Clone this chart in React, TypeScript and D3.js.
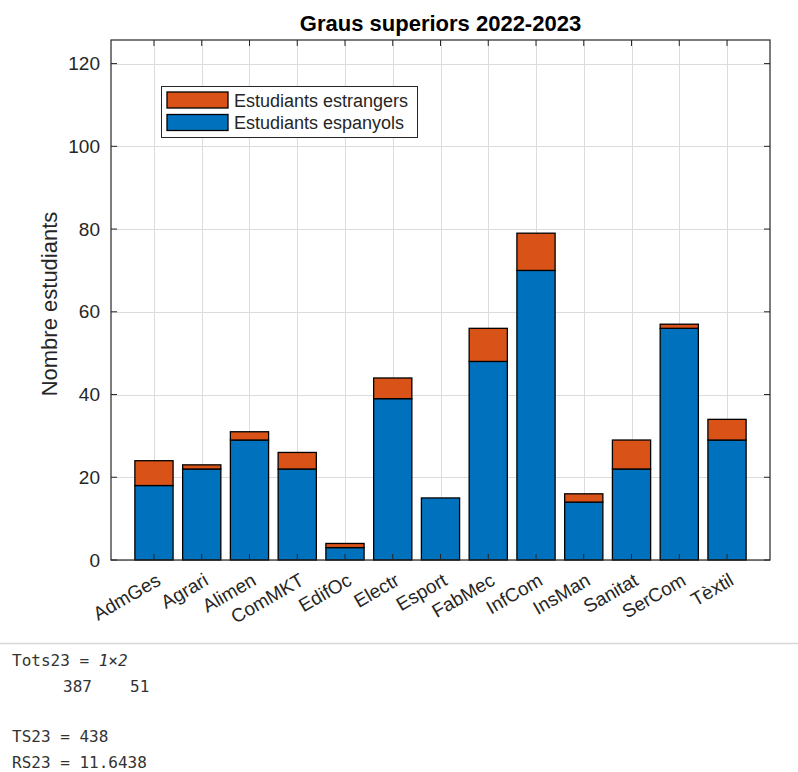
import React from "react";
import * as d3 from "d3";

const categories = ["AdmGes", "Agrari", "Alimen", "ComMKT", "EdifOc", "Electr", "Esport", "FabMec", "InfCom", "InsMan", "Sanitat", "SerCom", "Tèxtil"];
const spanish = [18, 22, 29, 22, 3, 39, 15, 48, 70, 14, 22, 56, 29];
const foreign = [6, 1, 2, 4, 1, 5, 0, 8, 9, 2, 7, 1, 5];
const yTicks = [0, 20, 40, 60, 80, 100, 120];
const seriesKeys = ["spanish", "foreign"];
const seriesColors = ["#0072BD", "#D95319"];
const legendItems = [
  { name: "Estudiants estrangers", color: "#D95319" },
  { name: "Estudiants espanyols", color: "#0072BD" },
];
const titleText = "Graus superiors 2022-2023";
const yLabelText = "Nombre estudiants";

const W = 798, H = 772;
const plot = { left: 111, right: 770, top: 40, bottom: 560 };
const AX = "#262626";
const FONT = "'Liberation Sans', Arial, sans-serif";
const MONO = "'DejaVu Sans Mono', 'Liberation Mono', monospace";

export default function App() {
  const x = d3.scaleLinear().domain([0.1, 13.9]).range([plot.left, plot.right]);
  const y = d3.scaleLinear().domain([0, 125.7]).range([plot.bottom, plot.top]);
  const rows = categories.map((c, i) => ({ cat: c, idx: i + 1, spanish: spanish[i], foreign: foreign[i] }));
  const stacked = d3.stack<any>().keys(seriesKeys)(rows);
  const step = x(2) - x(1);
  const bw = step * 0.8;
  const tickLen = 6;

  return (
    <div style={{ position: "absolute", left: 0, top: 0, width: W, height: H, background: "#fff" }}>
      <svg width={W} height={H} style={{ display: "block" }}>
        <rect x={0} y={0} width={W} height={H} fill="#ffffff" />
        {/* grid */}
        <g stroke="#dcdcdc" strokeWidth={1}>
          {yTicks.map((t) => (
            <line key={"gy" + t} x1={plot.left} x2={plot.right} y1={Math.round(y(t)) + 0.5} y2={Math.round(y(t)) + 0.5} />
          ))}
          {rows.map((r) => (
            <line key={"gx" + r.idx} y1={plot.top} y2={plot.bottom} x1={Math.round(x(r.idx)) + 0.5} x2={Math.round(x(r.idx)) + 0.5} />
          ))}
        </g>
        {/* bars */}
        {stacked.map((s, si) => (
          <g key={s.key} fill={seriesColors[si]} stroke="#000" strokeWidth={1.3}>
            {s.map((d: any, i: number) =>
              d[1] - d[0] > 0 ? (
                <rect key={i} x={x(rows[i].idx) - bw / 2} width={bw} y={y(d[1])} height={y(d[0]) - y(d[1])} />
              ) : null
            )}
          </g>
        ))}
        {/* axes box */}
        <rect x={plot.left} y={plot.top} width={plot.right - plot.left} height={plot.bottom - plot.top} fill="none" stroke={AX} strokeWidth={1.2} />
        {/* ticks */}
        <g stroke={AX} strokeWidth={1}>
          {yTicks.map((t) => (
            <g key={"ty" + t}>
              <line x1={plot.left} x2={plot.left + tickLen} y1={y(t)} y2={y(t)} />
              <line x1={plot.right} x2={plot.right - tickLen} y1={y(t)} y2={y(t)} />
            </g>
          ))}
          {rows.map((r) => (
            <g key={"tx" + r.idx}>
              <line x1={x(r.idx)} x2={x(r.idx)} y1={plot.bottom} y2={plot.bottom - tickLen} />
              <line x1={x(r.idx)} x2={x(r.idx)} y1={plot.top} y2={plot.top + tickLen} />
            </g>
          ))}
        </g>
        {/* y tick labels */}
        <g fontFamily={FONT} fontSize={19} fill={AX} textAnchor="end">
          {yTicks.map((t) => (
            <text key={"yl" + t} x={plot.left - 11} y={y(t)} dy="0.35em">{t}</text>
          ))}
        </g>
        {/* x tick labels */}
        <g fontFamily={FONT} fontSize={19} fill={AX} textAnchor="end">
          {rows.map((r) => (
            <text key={"xl" + r.idx} transform={`translate(${x(r.idx) + 8},${plot.bottom + 24}) rotate(-30)`}>{r.cat}</text>
          ))}
        </g>
        {/* y label */}
        <text transform={`translate(57,${(plot.top + plot.bottom) / 2 + 4}) rotate(-90)`} textAnchor="middle" fontFamily={FONT} fontSize={22} fill={AX}>{yLabelText}</text>
        {/* title */}
        <text x={(plot.left + plot.right) / 2} y={31} textAnchor="middle" fontFamily={FONT} fontSize={22} fontWeight="bold" fill="#000">{titleText}</text>
        {/* legend */}
        <g>
          <rect x={161.5} y={86.5} width={256} height={51} fill="#fff" stroke={AX} strokeWidth={1} />
          {legendItems.map((it, i) => (
            <g key={it.name}>
              <rect x={167} y={92 + i * 22.5} width={61} height={16} fill={it.color} stroke="#000" strokeWidth={1.3} />
              <text x={234} y={106.5 + i * 22.5} fontFamily={FONT} fontSize={18} fill={AX}>{it.name}</text>
            </g>
          ))}
        </g>
        {/* console separator */}
        <line x1={0} x2={W} y1={643.5} y2={643.5} stroke="#d8d8d8" strokeWidth={1.5} />
        <g fontFamily={MONO} fontSize={16} fill="#333">
          <text x={12} y={666}>Tots23 = <tspan fontStyle="italic">1×2</tspan></text>
          <text x={63} y={692}>387</text>
          <text x={130} y={692}>51</text>
          <text x={12} y={742}>TS23 = 438</text>
          <text x={12} y={768}>RS23 = 11.6438</text>
        </g>
      </svg>
    </div>
  );
}
